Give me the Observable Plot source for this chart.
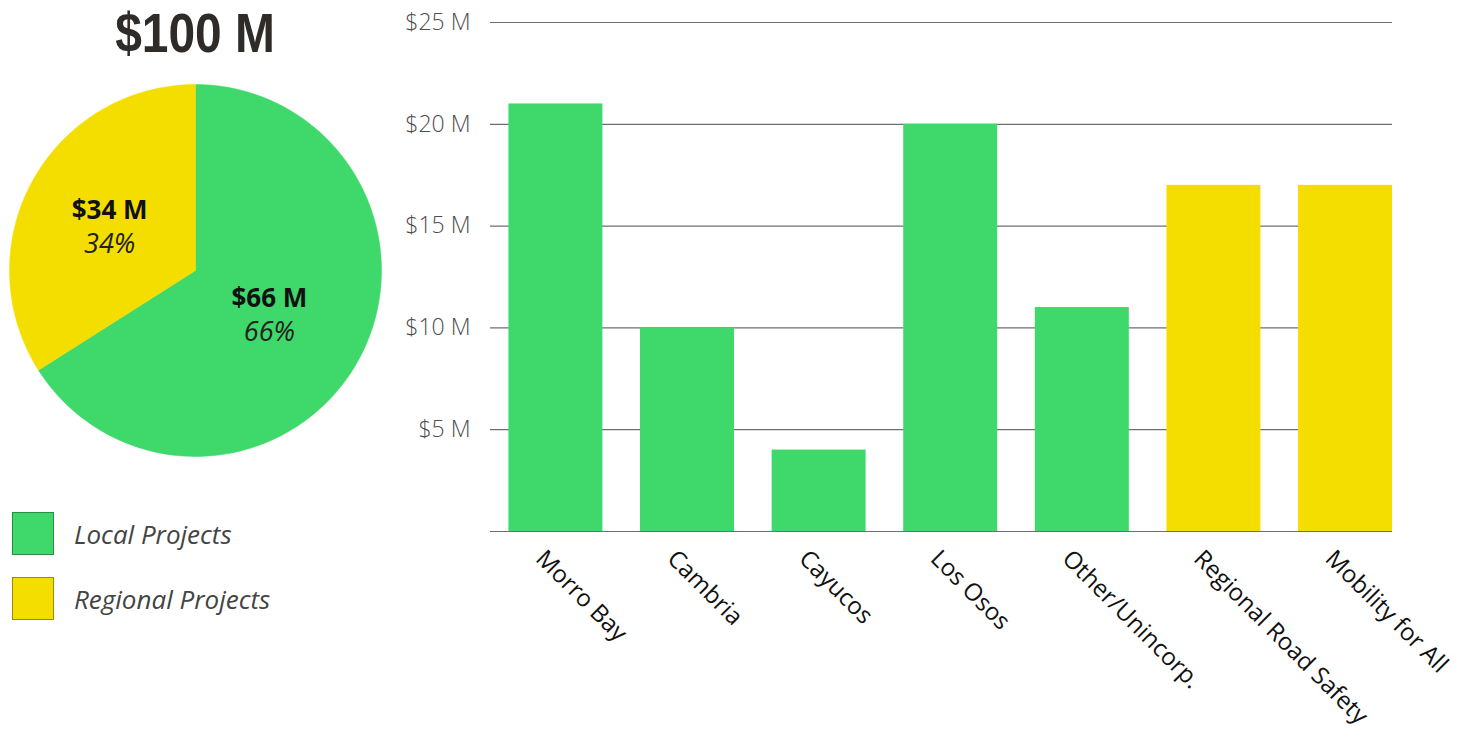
<!DOCTYPE html>
<html>
<head>
<meta charset="utf-8">
<script src="https://cdn.jsdelivr.net/npm/d3@7"></script>
<script src="https://cdn.jsdelivr.net/npm/@observablehq/plot@0.6"></script>
<style>
  html, body { margin: 0; padding: 0; background: #fff; }
  body { width: 1459px; height: 739px; overflow: hidden; font-family: "Open Sans", sans-serif; }
  #wrap { position: relative; width: 1459px; height: 739px; }
  #bars, #pie { position: absolute; left: 0; top: 0; }
  #title { position: absolute; left: 195px; top: 5px; line-height: 1; transform: translateX(-50%) scaleX(0.855); font-family: "Liberation Sans", sans-serif; font-weight: 700; font-size: 56px; color: #2f2b29; white-space: nowrap; }
  .leg { position: absolute; left: 12px; display: flex; align-items: center; }
  .leg .sw { width: 42px; height: 43px; box-sizing: border-box; border: 1.5px solid; }
  .leg .lb { margin-left: 20px; font-style: italic; font-size: 26px; color: #444; }
</style>
</head>
<body>
<div id="wrap">
  <div id="bars"></div>
  <div id="pie"></div>
  <div id="title"></div>
  <div id="legend"></div>
</div>
<script>
// ---- data ----
const categories = ["Morro Bay", "Cambria", "Cayucos", "Los Osos", "Other/Unincorp.", "Regional Road Safety", "Mobility for All"];
const values = [21, 10, 4, 20, 11, 17, 17];
const groups = ["Local", "Local", "Local", "Local", "Local", "Regional", "Regional"];
const groupNames = ["Local", "Regional"];
const legendLabels = ["Local Projects", "Regional Projects"];
const pieValues = [66, 34];
const pieMoney = ["$66 M", "$34 M"];
const piePct = ["66%", "34%"];
const totalLabel = "$100 M";
const yTicks = [0, 5, 10, 15, 20, 25];
const yTickLabels = ["", "$5 M", "$10 M", "$15 M", "$20 M", "$25 M"];
const groupColors = ["#3fd86b", "#f4de00"];
const groupBorders = ["#2b8c45", "#9c8a10"];

// ---- bar chart ----
const barData = categories.map((c, i) => ({name: c, value: values[i], group: groups[i]}));
const tickData = yTicks.map((t, i) => ({t, label: yTickLabels[i]}));

const bars = Plot.plot({
  width: 1459,
  height: 739,
  marginLeft: 490,
  marginRight: 67,
  marginTop: 22,
  marginBottom: 208,
  style: {fontFamily: "Open Sans, sans-serif", background: "transparent"},
  x: {domain: categories, paddingInner: 0.286, paddingOuter: 0.07, align: 1, round: false, axis: null},
  y: {domain: [0, 25], axis: null},
  color: {domain: groupNames, range: groupColors},
  marks: [
    Plot.ruleY(tickData, {y: "t", stroke: "#6f6f6f", strokeWidth: 1.2}),
    Plot.text(tickData, {y: "t", text: "label", frameAnchor: "left", textAnchor: "end", dx: -20, fontSize: 23, fill: "#4d4d4d", fontWeight: 300}),
    Plot.barY(barData, {x: "name", y: "value", fill: "group"}),
    Plot.text(barData, {x: "name", y: 0, text: "name", rotate: 45, textAnchor: "start", lineAnchor: "middle", dx: -16, dy: 23, fontSize: 24, fontWeight: 500, fill: "#111"})
  ]
});
document.getElementById("bars").appendChild(bars);

// ---- pie chart ----
const arcs = d3.pie().sort(null)(pieValues);
const piePts = [];
arcs.forEach((a, i) => {
  const n = 120;
  piePts.push({k: groupNames[i], x: 0, y: 0});
  for (let j = 0; j <= n; j++) {
    const ang = a.startAngle + (a.endAngle - a.startAngle) * j / n;
    piePts.push({k: groupNames[i], x: Math.sin(ang), y: Math.cos(ang)});
  }
  piePts.push({k: groupNames[i], x: 0, y: 0});
});
const pieLab = arcs.map((a, i) => {
  const m = (a.startAngle + a.endAngle) / 2;
  return {x: 0.49 * Math.sin(m), y: 0.49 * Math.cos(m), money: pieMoney[i], pct: piePct[i]};
});

const pie = Plot.plot({
  width: 400,
  height: 739,
  margin: 0,
  style: {fontFamily: "Open Sans, sans-serif", background: "transparent"},
  x: {domain: [-1, 1], range: [9, 381], axis: null},
  y: {domain: [-1, 1], range: [456, 84], axis: null},
  color: {domain: groupNames, range: groupColors},
  marks: [
    Plot.line(piePts, {x: "x", y: "y", z: "k", fill: "k", stroke: "k", strokeWidth: 0.5, curve: "linear"}),
    Plot.text(pieLab, {x: "x", y: "y", text: "money", dx: -6, dy: -16, fontSize: 26, fontWeight: 700, fill: "#111"}),
    Plot.text(pieLab, {x: "x", y: "y", text: "pct", dx: -6, dy: 18, fontSize: 27, fontStyle: "italic", fill: "#222"})
  ]
});
document.getElementById("pie").appendChild(pie);

// ---- title & legend ----
document.getElementById("title").textContent = totalLabel;
const legend = document.getElementById("legend");
legendLabels.forEach((l, i) => {
  const row = document.createElement("div");
  row.className = "leg";
  row.style.top = (512 + i * 65) + "px";
  const sw = document.createElement("div");
  sw.className = "sw";
  sw.style.background = groupColors[i];
  sw.style.borderColor = groupBorders[i];
  const lb = document.createElement("div");
  lb.className = "lb";
  lb.textContent = l;
  row.appendChild(sw);
  row.appendChild(lb);
  legend.appendChild(row);
});
</script>
</body>
</html>
